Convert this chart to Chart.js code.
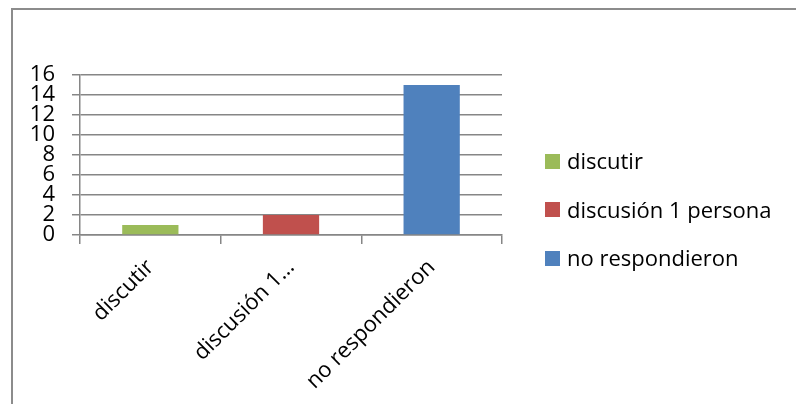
<!DOCTYPE html>
<html>
<head>
<meta charset="utf-8">
<script src="https://cdn.jsdelivr.net/npm/chart.js@4/dist/chart.umd.min.js"></script>
<style>
  html, body { margin: 0; padding: 0; background: #fff; }
  body { width: 796px; height: 404px; overflow: hidden; position: relative; }
  #frame {
    position: absolute; left: 11px; top: 8px; width: 820px; height: 420px;
    border: 2px solid #8c8c8c; box-sizing: border-box;
  }
  #chart { position: absolute; left: 0; top: 0; }
  #legend {
    position: absolute; left: 545px; top: 136px;
    font-family: "Open Sans", sans-serif; font-size: 22px; color: #000;
  }
  #legend .item { height: 48.5px; display: flex; align-items: center; white-space: nowrap; }
  #legend .swatch { width: 15px; height: 15px; margin-right: 7px; flex: none; position: relative; top: 1px; }
</style>
</head>
<body>
<div id="frame"></div>
<canvas id="chart" width="796" height="404"></canvas>
<div id="legend"></div>
<script>
// Survey answers and counts
const categories = ['discutir', 'discusión 1 persona', 'no respondieron'];
const tickLabels = ['discutir', 'discusión 1…', 'no respondieron'];
const counts = [1, 2, 15];
const barColors = ['#9BBB59', '#C0504D', '#4F81BD'];
const yMin = 0;
const yMax = 16;
const yStep = 2;

const gridGray = '#868686';
const labelFont = { family: '"Open Sans", sans-serif', size: 22, lineHeight: 1.0 };

const chart = new Chart(document.getElementById('chart'), {
  type: 'bar',
  data: {
    labels: categories,
    datasets: [{
      data: counts,
      backgroundColor: barColors,
      borderWidth: 0,
      barPercentage: 0.4,
      categoryPercentage: 1.0
    }]
  },
  options: {
    responsive: false,
    animation: false,
    devicePixelRatio: 1,
    layout: { padding: { top: 75, right: 294, left: 0, bottom: 0 } },
    plugins: {
      legend: { display: false },
      tooltip: { enabled: false }
    },
    scales: {
      x: {
        afterFit: (scale) => { scale.height = 169; },
        grid: {
          offset: true,
          drawOnChartArea: false,
          drawTicks: true,
          tickLength: 9,
          color: gridGray,
          lineWidth: 1.5
        },
        border: { display: true, color: gridGray, width: 1.5 },
        ticks: {
          autoSkip: false,
          minRotation: 45,
          maxRotation: 45,
          padding: 12,
          color: '#000',
          font: labelFont,
          callback: (value, index) => tickLabels[index]
        }
      },
      y: {
        min: yMin,
        max: yMax,
        afterFit: (scale) => { scale.width = 80; },
        grid: {
          color: gridGray,
          lineWidth: 1.5,
          drawTicks: true,
          tickLength: 8
        },
        border: { display: true, color: gridGray, width: 1.5 },
        ticks: {
          stepSize: yStep,
          autoSkip: false,
          padding: 17,
          color: '#000',
          font: labelFont
        }
      }
    }
  }
});

// Legend built from the chart's own data
const legendEl = document.getElementById('legend');
chart.data.labels.forEach((name, i) => {
  const row = document.createElement('div');
  row.className = 'item';
  const sw = document.createElement('span');
  sw.className = 'swatch';
  sw.style.background = chart.data.datasets[0].backgroundColor[i];
  const txt = document.createElement('span');
  txt.textContent = name;
  row.appendChild(sw);
  row.appendChild(txt);
  legendEl.appendChild(row);
});
</script>
</body>
</html>
